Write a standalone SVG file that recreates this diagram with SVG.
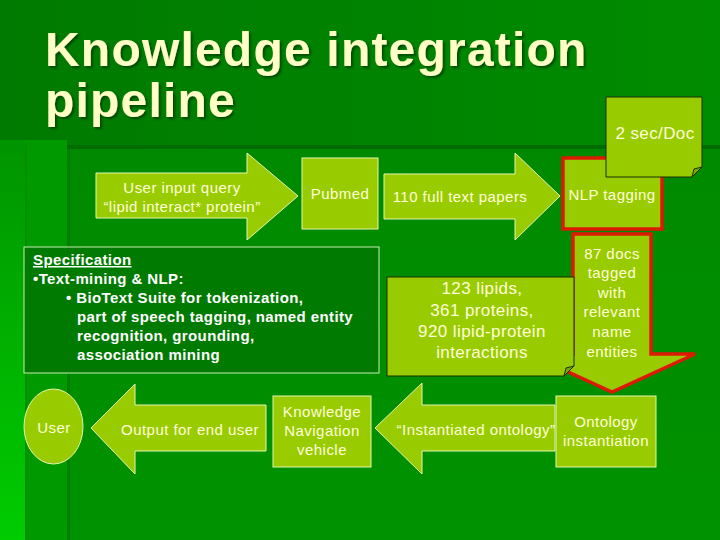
<svg xmlns="http://www.w3.org/2000/svg" width="720" height="540" viewBox="0 0 720 540">
  <style>
    .lime { fill: #99cc00; stroke: #e6f5b0; stroke-width: 1; }
    .note { fill: #99cc00; stroke: #1a2e00; stroke-width: 1; }
    .fold { fill: #7fa800; stroke: #1a2e00; stroke-width: 1; }
    .lbl { font-family: "Liberation Sans", Arial, sans-serif; font-size: 15px; fill: #ffffd9; text-anchor: middle; letter-spacing: 0.45px; }
    .big { font-size: 17px; letter-spacing: 0.4px; }
    .spec { font-family: "Liberation Sans", Arial, sans-serif; font-size: 15px; font-weight: bold; fill: #ffffff; letter-spacing: 0.4px; }
    .title { font-family: "Liberation Sans", Arial, sans-serif; font-size: 48px; font-weight: bold; fill: #ffffc6; letter-spacing: 1.2px; }
  </style>
  <defs>
    <linearGradient id="topg" x1="0" y1="0" x2="1" y2="0">
      <stop offset="0" stop-color="#007a00"/>
      <stop offset="1" stop-color="#008c00"/>
    </linearGradient>
    <linearGradient id="leftg" x1="0" y1="0" x2="0" y2="1">
      <stop offset="0" stop-color="#009400"/>
      <stop offset="1" stop-color="#00cc00"/>
    </linearGradient>
    <linearGradient id="maing" x1="0" y1="0" x2="0" y2="1">
      <stop offset="0" stop-color="#008600"/>
      <stop offset="1" stop-color="#009200"/>
    </linearGradient>
    <filter id="shadow" x="-5%" y="-20%" width="110%" height="140%">
      <feDropShadow dx="2" dy="2" stdDeviation="0.8" flood-color="#003300" flood-opacity="0.7"/>
    </filter>
  </defs>

  <!-- background -->
  <g id="background">
    <rect x="0" y="0" width="720" height="540" fill="url(#maing)"/>
    <rect x="0" y="0" width="720" height="147" fill="url(#topg)"/>
    <rect x="0" y="140" width="67" height="400" fill="#009a00"/>
    <rect x="0" y="140" width="25" height="400" fill="url(#leftg)"/>
    <rect x="25" y="145" width="2" height="395" fill="#008e00"/>
    <rect x="67" y="145" width="3" height="395" fill="#007e00"/>
    <rect x="67" y="145" width="653" height="4" fill="#006c00"/>
  </g>

  <g id="title" filter="url(#shadow)">
    <text class="title" x="45" y="66">Knowledge integration</text>
    <text class="title" x="45" y="117">pipeline</text>
  </g>

  <!-- block arrows acting as connectors -->
  <g id="connectors">
    <g id="arrow-query">
      <polygon class="lime" points="96,173 247,173 247,153 298,196 247,240 247,218 96,218"/>
      <text class="lbl" x="182" y="193">User input query</text>
      <text class="lbl" x="182" y="212">“lipid interact* protein”</text>
    </g>
    <g id="arrow-papers">
      <polygon class="lime" points="384,174 515,174 515,153 560,196 515,240 515,219 384,219"/>
      <text class="lbl" x="460" y="202">110 full text papers</text>
    </g>
    <g id="arrow-tagged">
      <polygon points="573,234 651,234 651,354 695,354 612,392 529,354 573,354" fill="#99cc00" stroke="#dd1a00" stroke-width="3.5" stroke-linejoin="miter"/>
      <text class="lbl" x="612" y="259">87 docs</text>
      <text class="lbl" x="612" y="278">tagged</text>
      <text class="lbl" x="612" y="298">with</text>
      <text class="lbl" x="612" y="317">relevant</text>
      <text class="lbl" x="612" y="337">name</text>
      <text class="lbl" x="612" y="357">entities</text>
    </g>
    <g id="arrow-instantiated">
      <polygon class="lime" points="555,405 422,405 422,383 375,428 422,474 422,451 555,451"/>
      <text class="lbl" x="476" y="435">“Instantiated ontology”</text>
    </g>
    <g id="arrow-output">
      <polygon class="lime" points="266,405 135,405 135,384 91,428 135,474 135,451 266,451"/>
      <text class="lbl" x="190" y="435">Output for end user</text>
    </g>
  </g>

  <g id="pubmed">
    <rect class="lime" x="302" y="158" width="76" height="71"/>
    <text class="lbl" x="340" y="199">Pubmed</text>
  </g>

  <g id="nlp-tagging">
    <rect x="563" y="158" width="99" height="71" fill="#99cc00" stroke="#dd1a00" stroke-width="3.5"/>
    <text class="lbl" x="612" y="200">NLP tagging</text>
  </g>

  <g id="note-speed">
    <path class="note" d="M606,97 H702 V167 L692,177 H606 Z"/>
    <path class="fold" d="M702,167 L692,177 L694,169 Z"/>
    <text class="lbl big" x="655" y="139">2 sec/Doc</text>
  </g>

  <g id="specification">
    <rect x="24" y="247" width="355" height="126" fill="#007a00" stroke="#c8f0b0" stroke-width="1"/>
    <text class="spec" x="33" y="265" text-decoration="underline">Specification</text>
    <text class="spec" x="33" y="284">•Text-mining &amp; NLP:</text>
    <text class="spec" x="66" y="303">• BioText Suite for tokenization,</text>
    <text class="spec" x="77" y="322">part of speech tagging, named entity</text>
    <text class="spec" x="77" y="341">recognition,  grounding,</text>
    <text class="spec" x="77" y="360">association mining</text>
  </g>

  <g id="note-counts">
    <path class="note" d="M387,277 H574 V366 L564,376 H387 Z"/>
    <path class="fold" d="M574,366 L564,376 L566,368 Z"/>
    <text class="lbl big" x="482" y="294">123 lipids,</text>
    <text class="lbl big" x="482" y="316">361 proteins,</text>
    <text class="lbl big" x="482" y="337">920 lipid-protein</text>
    <text class="lbl big" x="482" y="358">interactions</text>
  </g>

  <g id="ontology-instantiation">
    <rect class="lime" x="556" y="396" width="100" height="71"/>
    <text class="lbl" x="606" y="427">Ontology</text>
    <text class="lbl" x="606" y="446">instantiation</text>
  </g>

  <g id="knowledge-navigation">
    <rect class="lime" x="273" y="396" width="98" height="71"/>
    <text class="lbl" x="322" y="417">Knowledge</text>
    <text class="lbl" x="322" y="436">Navigation</text>
    <text class="lbl" x="322" y="455">vehicle</text>
  </g>

  <g id="user">
    <ellipse class="lime" cx="53.5" cy="426.5" rx="29.5" ry="37.5"/>
    <text class="lbl" x="54" y="433">User</text>
  </g>
</svg>
